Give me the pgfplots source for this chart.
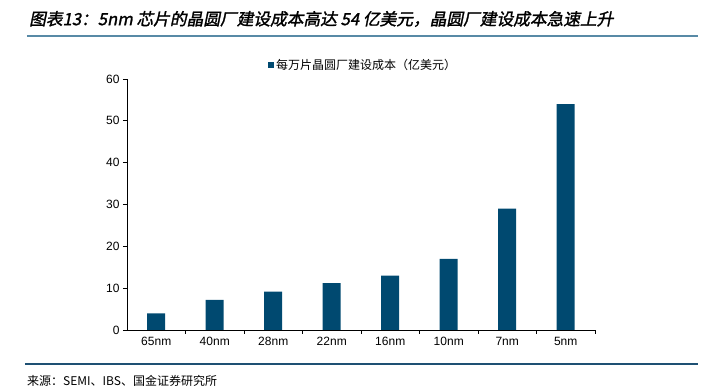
\documentclass[border=0pt]{standalone}
\usepackage{fontspec}
\setmainfont{Liberation Sans}
\newfontfamily\cjk{Noto Sans CJK SC}
\newfontfamily\cjktitle[FakeSlant=0.2,FakeBold=1.5]{Noto Sans CJK SC}
\usepackage{pgfplots}
\pgfplotsset{compat=1.18}
\definecolor{barblue}{RGB}{0,73,112}
\definecolor{lineblue}{RGB}{88,138,166}
\definecolor{srcblue}{RGB}{30,80,115}
\begin{document}
\begin{tikzpicture}[x=1pt,y=1pt]
\begin{axis}[
  scale only axis, width=468pt, height=251pt,
  anchor=south west, at={(0pt,0pt)},
  xmin=-0.5, xmax=7.5, ymin=0, ymax=60,
  axis x line*=bottom, axis y line*=left,
  axis line style={line width=0.8pt},
  ytick={0,10,...,60},
  xtick={0,...,7},
  xticklabels={65nm,40nm,28nm,22nm,16nm,10nm,7nm,5nm},
  major x tick style={draw=none},
  minor xtick={0.5,1.5,...,7.5},
  tick align=outside,
  major tick length=4pt, minor tick length=4pt,
  tick style={line width=0.8pt, black},
  ticklabel style={font=\fontsize{12}{14}\selectfont},
  /pgf/number format/assume math mode=true,
  legend style={draw=none, fill=none, inner sep=0pt, font=\cjk\fontsize{12}{14}\selectfont, at={(0.301,1.056)}, anchor=west},
  legend image code/.code={\fill[barblue] (0pt,-3pt) rectangle (6pt,3pt);},
]
\addplot[ybar, bar width=18pt, fill=barblue, draw=none] coordinates {
(0,4) (1,7.2) (2,9.2) (3,11.2) (4,13) (5,17) (6,29) (7,54)
};
\addlegendentry{每万片晶圆厂建设成本（亿美元）}
\end{axis}
\begin{scope}[shift={(-127pt,-60pt)}]
\path[use as bounding box] (0,0) rectangle (707,390);
\node[anchor=west, inner sep=0pt, font=\cjktitle\fontsize{16.7}{19}\selectfont] at (29,371) {图表13：5nm 芯片的晶圆厂建设成本高达 54 亿美元，晶圆厂建设成本急速上升};
\draw[lineblue, line width=2.5pt] (27,354) -- (698,354);
\draw[srcblue, line width=1.5pt] (25,26) -- (698,26);
\node[anchor=west, inner sep=0pt, font=\cjk\fontsize{12}{14}\selectfont] at (27,9) {来源：SEMI、IBS、国金证券研究所};
\end{scope}
\end{tikzpicture}
\end{document}
